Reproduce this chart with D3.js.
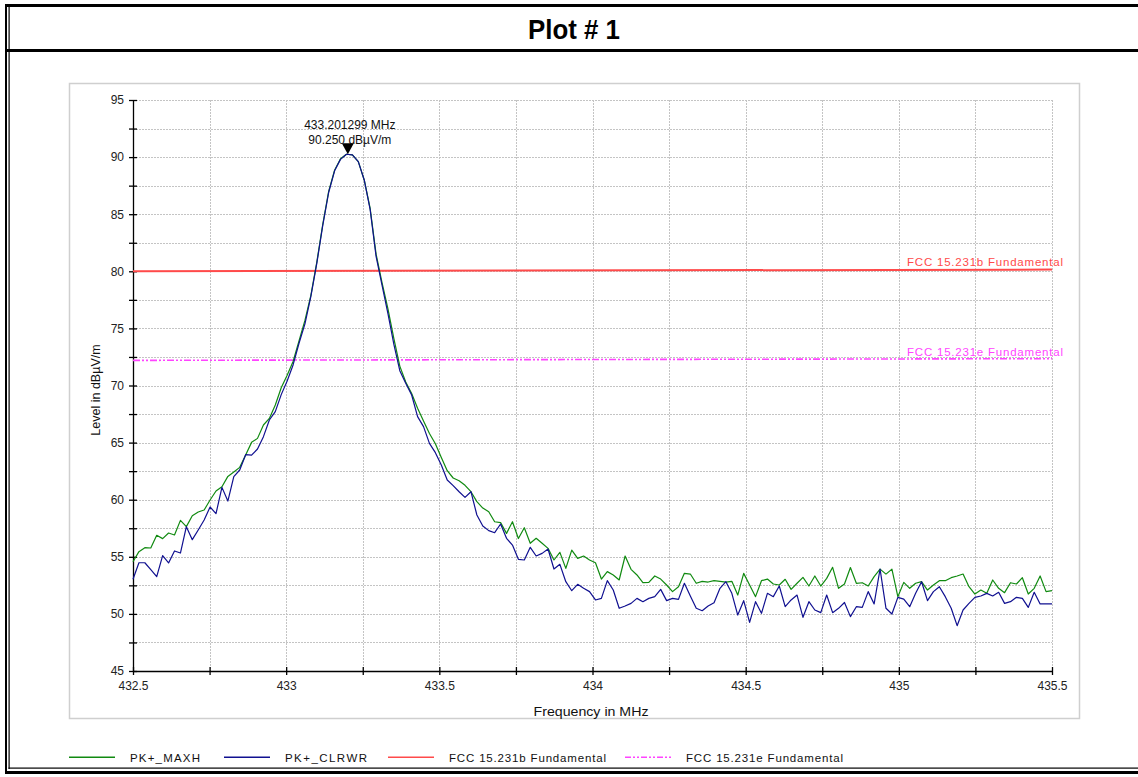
<!DOCTYPE html>
<html><head><meta charset="utf-8">
<script src="https://cdn.jsdelivr.net/npm/d3@7"></script>
<style>
body{margin:0;background:#fff}
svg{display:block}
text{font-family:Arial,"Liberation Sans",sans-serif}
</style>
</head><body>
<svg id="c" width="1138" height="777"></svg>
<script>
// ---- data ----
const titleText = "Plot # 1";
const freqStart = 432.5, freqStop = 435.5;
const pkMaxh = [
54.57,55.45,55.80,55.77,56.88,56.59,57.08,56.91,58.19,57.64,
58.60,58.92,59.10,59.97,60.76,61.14,62.04,62.42,62.83,63.91,
65.02,65.37,66.54,67.12,68.29,69.80,70.90,72.10,73.90,75.70,
77.90,80.80,84.10,87.00,88.85,89.85,90.25,90.20,89.60,88.00,
85.50,81.50,79.00,76.70,74.10,71.70,70.30,69.30,68.00,66.90,
65.80,64.90,63.70,62.54,61.90,61.66,61.26,60.70,59.83,59.27,
58.95,58.07,57.99,57.05,58.07,56.60,57.55,56.18,56.62,56.18,
55.74,54.72,55.39,53.99,55.59,54.86,55.07,54.72,54.48,53.05,
53.70,53.41,52.97,55.07,53.90,53.41,52.73,52.76,53.32,53.05,
52.53,51.95,52.38,53.55,53.49,52.68,52.85,52.79,52.91,52.85,
52.79,52.85,51.65,53.55,52.53,51.51,52.91,53.05,52.62,52.53,
53.03,52.15,52.68,53.20,52.44,53.32,52.44,53.11,54.08,52.24,
52.62,54.06,52.68,52.73,52.44,53.26,53.92,53.48,53.92,51.51,
52.76,52.24,52.68,52.82,52.09,52.53,52.91,52.91,53.17,53.32,
53.49,52.38,51.74,52.09,51.80,52.97,52.24,51.86,52.73,52.62,
53.17,51.74,52.24,53.32,51.95,52.03
];
const pkClrwr = [
53.03,54.48,54.48,53.87,53.26,55.10,54.46,55.51,55.33,57.64,
56.50,57.35,58.22,59.36,58.78,61.08,59.88,62.02,62.60,63.94,
63.91,64.44,65.52,66.98,67.71,69.20,70.40,71.80,73.70,75.40,
77.80,80.70,84.00,86.90,88.80,89.80,90.25,90.20,89.60,88.00,
85.40,81.30,78.80,76.30,73.60,71.30,70.19,69.17,67.27,66.40,
64.93,64.12,63.04,61.72,61.23,60.70,60.20,60.70,58.66,57.70,
57.29,57.11,57.87,56.62,56.03,54.78,54.72,55.83,55.07,55.30,
55.68,53.93,54.34,52.82,52.03,52.59,52.24,51.95,51.22,51.36,
52.91,52.09,50.49,50.69,50.92,51.36,51.07,51.36,51.51,52.15,
51.16,51.36,51.27,52.68,51.57,50.49,50.28,50.69,50.98,52.24,
52.82,51.80,49.90,51.16,49.26,51.07,50.05,51.80,51.51,52.44,
50.63,51.22,51.65,49.70,51.07,50.34,50.11,51.65,50.11,50.49,
51.00,49.76,50.63,50.57,51.95,50.87,53.93,50.49,49.99,51.45,
51.30,50.63,51.80,52.82,51.16,51.95,52.38,51.51,50.49,48.97,
50.34,50.92,51.45,51.57,51.80,51.57,51.89,50.92,51.07,51.45,
51.36,50.57,51.89,50.87,50.87,50.87
];
const limitFreqs = [432.5, 435.5];
const limitB = [80.0, 80.15];
const limitE = [72.2, 72.35];
const xTickValues = [432.5,432.75,433,433.25,433.5,433.75,434,434.25,434.5,434.75,435,435.25,435.5];
const xTickLabels = ["432.5","","433","","433.5","","434","","434.5","","435","","435.5"];
const yTickValues = [45,47.5,50,52.5,55,57.5,60,62.5,65,67.5,70,72.5,75,77.5,80,82.5,85,87.5,90,92.5,95];
const yTickLabels = ["45","","50","","55","","60","","65","","70","","75","","80","","85","","90","","95"];
const markerFreq = 433.201299, markerLevel = 90.25;
const markerLines = ["433.201299 MHz", "90.250 dBµV/m"];
const xTitle = "Frequency in MHz", yTitle = "Level in dBµV/m";
const seriesNames = ["PK+_MAXH","PK+_CLRWR","FCC 15.231b Fundamental","FCC 15.231e Fundamental"];
const seriesColors = ["#108a10","#101090","#ff4a4a","#ff44ff"];

// ---- drawing ----
const svg = d3.select("#c");
const W = 1138, H = 777;
const x = d3.scaleLinear().domain([freqStart, freqStop]).range([133, 1052]);
const y = d3.scaleLinear().domain([45, 95]).range([671, 100]);

// frame
const fr = svg.append("g");
fr.append("rect").attr("x",5).attr("y",4).attr("width",W-5).attr("height",3).attr("fill","#000");
fr.append("rect").attr("x",5).attr("y",49).attr("width",W-5).attr("height",3).attr("fill","#000");
fr.append("rect").attr("x",5).attr("y",4).attr("width",2).attr("height",770).attr("fill","#000");
fr.append("rect").attr("x",8.5).attr("y",7).attr("width",1.2).attr("height",762).attr("fill","#000");
fr.append("rect").attr("x",8.5).attr("y",767.5).attr("width",W-8.5).attr("height",1.2).attr("fill","#000");
fr.append("rect").attr("x",5).attr("y",771).attr("width",W-5).attr("height",3).attr("fill","#000");

svg.append("text").attr("x",528).attr("y",39)
  .style("font-family","'Liberation Sans Narrow','Arial Narrow',Arial,sans-serif")
  .style("font-weight","bold").style("font-size","28px")
  .attr("textLength",92).attr("lengthAdjust","spacingAndGlyphs").text(titleText);

// panel
svg.append("rect").attr("x",69.5).attr("y",83.5).attr("width",1010).attr("height",635)
  .attr("fill","#fff").attr("stroke","#cfcfcf").attr("stroke-width",1.5);

// grid
const grid = svg.append("g").attr("stroke","#c4c4c4").attr("stroke-width",1).attr("stroke-dasharray","2,1");
grid.selectAll(".gx").data(xTickValues.slice(1)).join("line")
  .attr("x1",d=>Math.round(x(d))+0.5).attr("x2",d=>Math.round(x(d))+0.5).attr("y1",y(95)).attr("y2",y(45));
grid.selectAll(".gy").data(yTickValues.slice(1)).join("line")
  .attr("y1",d=>Math.round(y(d))+0.5).attr("y2",d=>Math.round(y(d))+0.5).attr("x1",x(freqStart)).attr("x2",x(freqStop));

// axes
const yAxis = d3.axisLeft(y).tickValues(yTickValues).tickFormat((d,i)=>yTickLabels[i]).tickSizeInner(4).tickSizeOuter(0).tickPadding(5);
const gy = svg.append("g").attr("transform",`translate(${x(freqStart)},0)`).call(yAxis);
gy.selectAll(".tick line").attr("x1",4);
const xAxis = d3.axisBottom(x).tickValues(xTickValues).tickFormat((d,i)=>xTickLabels[i]).tickSizeInner(4).tickSizeOuter(0).tickPadding(6);
const gx = svg.append("g").attr("transform",`translate(0,${y(45)})`).call(xAxis);
gx.selectAll(".tick line").attr("y1",-4);
[gx,gy].forEach(g=>{
  g.select(".domain").attr("stroke","#000").attr("stroke-width",1.3);
  g.selectAll(".tick line").attr("stroke","#000").attr("stroke-width",1.3);
  g.selectAll(".tick text").style("font-size","12px").style("font-family","Arial,'Liberation Sans',sans-serif").attr("fill","#222");
});

svg.append("text").attr("x",591).attr("y",716).attr("text-anchor","middle").style("font-size","12.5px").attr("fill","#111")
  .attr("textLength",115).attr("lengthAdjust","spacingAndGlyphs").text(xTitle);
svg.append("text").attr("transform","translate(100,390) rotate(-90)").attr("text-anchor","middle").style("font-size","12.5px").attr("fill","#111").text(yTitle);

// limit lines
const limLine = d3.line().x(d=>x(d[0])).y(d=>y(d[1]));
svg.append("path").datum(limitFreqs.map((f,i)=>[f,limitB[i]])).attr("d",limLine)
  .attr("fill","none").attr("stroke",seriesColors[2]).attr("stroke-width",2);
svg.append("path").datum(limitFreqs.map((f,i)=>[f,limitE[i]])).attr("d",limLine)
  .attr("fill","none").attr("stroke",seriesColors[3]).attr("stroke-width",1.6).attr("stroke-dasharray","7,2,2,2,2,2");
svg.append("text").attr("x",907).attr("y",266).style("font-size","11.5px").attr("fill",seriesColors[2])
  .attr("textLength",156).attr("lengthAdjust","spacing").text(seriesNames[2]);
svg.append("text").attr("x",907).attr("y",356).style("font-size","11.5px").attr("fill",seriesColors[3])
  .attr("textLength",156).attr("lengthAdjust","spacing").text(seriesNames[3]);

// traces
const n = pkMaxh.length;
const freqs = pkMaxh.map((_,i)=>freqStart + i*(freqStop-freqStart)/(n-1));
const tr = d3.line().x((d,i)=>x(freqs[i])).y(d=>y(d));
svg.append("path").datum(pkMaxh).attr("d",tr).attr("fill","none").attr("stroke",seriesColors[0]).attr("stroke-width",1.2).attr("stroke-linejoin","round");
svg.append("path").datum(pkClrwr).attr("d",tr).attr("fill","none").attr("stroke",seriesColors[1]).attr("stroke-width",1.2).attr("stroke-linejoin","round");

// marker
const mx = x(markerFreq), my = y(markerLevel);
svg.append("path").attr("d",`M${mx-6},${my-11}L${mx+6},${my-11}L${mx},${my}Z`).attr("fill","#000");
svg.selectAll(".mk").data(markerLines).join("text").attr("x",mx+2).attr("y",(d,i)=>my-25+i*15)
  .attr("text-anchor","middle").style("font-size","12px").attr("fill","#111").text(d=>d);

// legend
const legX = [69,224,388,625];
const legTextW = [70,82,157,157];
const lg = svg.append("g");
seriesNames.forEach((nm,i)=>{
  lg.append("path").attr("d",`M${legX[i]},757.2H${legX[i]+46}`)
    .attr("fill","none").attr("stroke",seriesColors[i]).attr("stroke-width",1.5)
    .attr("stroke-dasharray",i===3?"6,2,2,2,2,2":null);
  lg.append("text").attr("x",legX[i]+61).attr("y",761.5).style("font-size","11.5px").attr("fill","#111")
    .attr("textLength",legTextW[i]).attr("lengthAdjust","spacing").text(nm);
});
</script>
</body></html>
